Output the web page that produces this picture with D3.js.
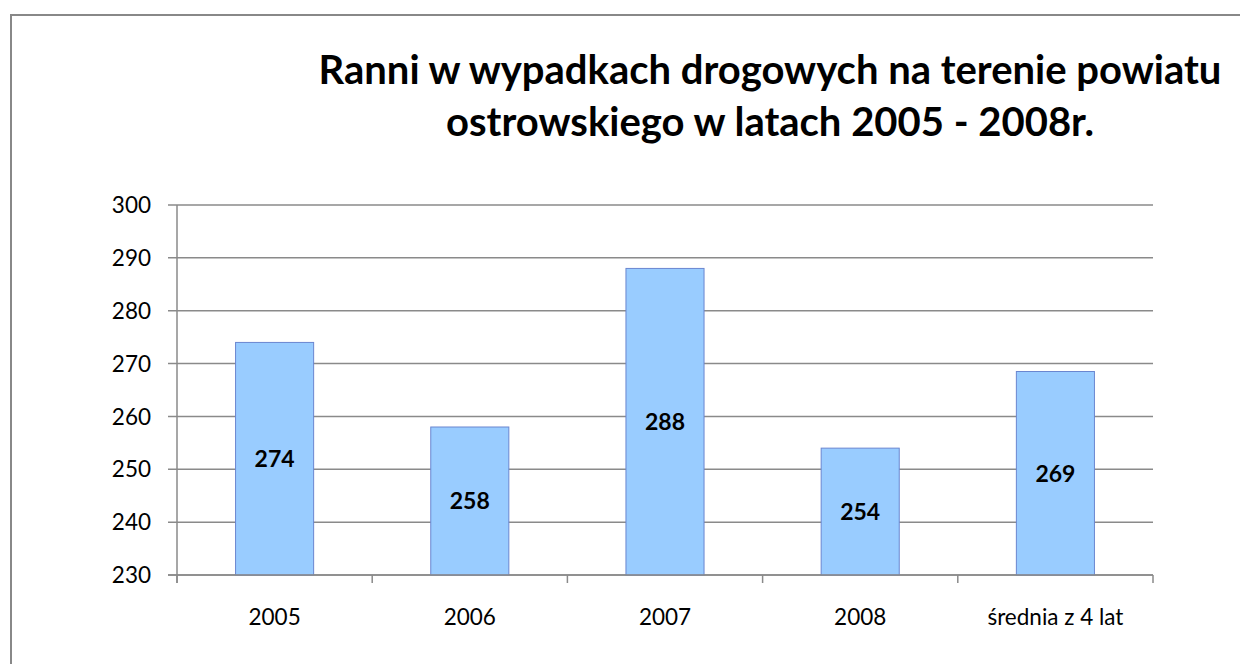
<!DOCTYPE html>
<html>
<head>
<meta charset="utf-8">
<script src="https://cdn.jsdelivr.net/npm/d3@7"></script>
<style>
  html, body { margin: 0; background: #fff; overflow: hidden; }
  svg { display: block; font-family: Lato, "Open Sans", sans-serif; }
</style>
</head>
<body>
<svg></svg>
<script>
// Chart data
let categories = ["2005", "2006", "2007", "2008", "średnia z 4 lat"];
let values = [274, 258, 288, 254, 268.5];
let yTicks = [230, 240, 250, 260, 270, 280, 290, 300];
let titleLines = ["Ranni w wypadkach drogowych na terenie powiatu",
                  "ostrowskiego w latach 2005 - 2008r."];

let width = 1240,
    height = 664;

let svg = d3.select("svg")
    .attr("width", width)
    .attr("height", height);

// Outer chart frame: only the left and top edges fall inside the picture
svg.append("path")
    .attr("d", d3.line()([[11, height], [11, 15], [width, 15]]))
    .style("fill", "none")
    .style("stroke", "#888")
    .style("stroke-width", 2);

// Plot area
let plotLeft = 177, plotRight = 1153, plotTop = 205, plotBottom = 575;

let x = d3.scaleBand()
    .domain(categories)
    .range([plotLeft, plotRight])
    .paddingInner(0.6)
    .paddingOuter(0.3);

let xOuter = d3.scaleBand()
    .domain(categories)
    .range([plotLeft, plotRight]);

let y = d3.scaleLinear()
    .domain([230, 300])
    .range([plotBottom, plotTop]);

// Gridlines
svg.append("g")
    .selectAll("line")
    .data(yTicks)
    .enter().append("line")
    .attr("x1", plotLeft - 9)
    .attr("x2", plotRight)
    .attr("y1", d => y(d))
    .attr("y2", d => y(d))
    .style("stroke", "#8a8a8a")
    .style("stroke-width", 1.5);

// Y axis line
svg.append("line")
    .attr("x1", plotLeft).attr("x2", plotLeft)
    .attr("y1", plotTop).attr("y2", plotBottom + 8)
    .style("stroke", "#8a8a8a")
    .style("stroke-width", 1.5);

// Y tick labels
svg.append("g")
    .selectAll("text")
    .data(yTicks)
    .enter().append("text")
    .attr("x", 151)
    .attr("y", d => y(d))
    .attr("dy", "0.36em")
    .attr("text-anchor", "end")
    .style("font-size", "22.5px")
    .style("fill", "#000")
    .text(d => d);

// X category tick marks
let tickPos = categories.map(c => xOuter(c)).concat([plotRight]);
svg.append("g")
    .selectAll("line")
    .data(tickPos)
    .enter().append("line")
    .attr("x1", d => d).attr("x2", d => d)
    .attr("y1", plotBottom).attr("y2", plotBottom + 8)
    .style("stroke", "#8a8a8a")
    .style("stroke-width", 1.5);

// Bars
svg.append("g")
    .selectAll("rect")
    .data(values)
    .enter().append("rect")
    .attr("x", (d, i) => x(categories[i]))
    .attr("y", d => y(d))
    .attr("width", x.bandwidth())
    .attr("height", d => plotBottom - y(d))
    .style("fill", "#99ccff")
    .style("stroke", "#6a86d0")
    .style("stroke-width", 1);

// X axis baseline on top of bars
svg.append("line")
    .attr("x1", plotLeft - 9).attr("x2", plotRight)
    .attr("y1", plotBottom).attr("y2", plotBottom)
    .style("stroke", "#8a8a8a")
    .style("stroke-width", 1.5);

// Value labels in bar middles
svg.append("g")
    .selectAll("text")
    .data(values)
    .enter().append("text")
    .attr("x", (d, i) => x(categories[i]) + x.bandwidth() / 2)
    .attr("y", d => (y(d) + plotBottom) / 2)
    .attr("dy", "0.36em")
    .attr("text-anchor", "middle")
    .style("font-size", "23px")
    .style("font-weight", "bold")
    .style("fill", "#000")
    .text(d => Math.round(d));

// X labels
svg.append("g")
    .selectAll("text")
    .data(categories)
    .enter().append("text")
    .attr("x", d => xOuter(d) + xOuter.bandwidth() / 2)
    .attr("y", 617)
    .attr("dy", "0.36em")
    .attr("text-anchor", "middle")
    .style("font-size", "22.5px")
    .style("fill", "#000")
    .text(d => d);

// Title
svg.append("g")
    .selectAll("text")
    .data(titleLines)
    .enter().append("text")
    .attr("x", 770)
    .attr("y", (d, i) => 84 + i * 52)
    .attr("text-anchor", "middle")
    .style("font-size", "40px")
    .style("font-weight", "bold")
    .style("fill", "#000")
    .text(d => d);
</script>
</body>
</html>
